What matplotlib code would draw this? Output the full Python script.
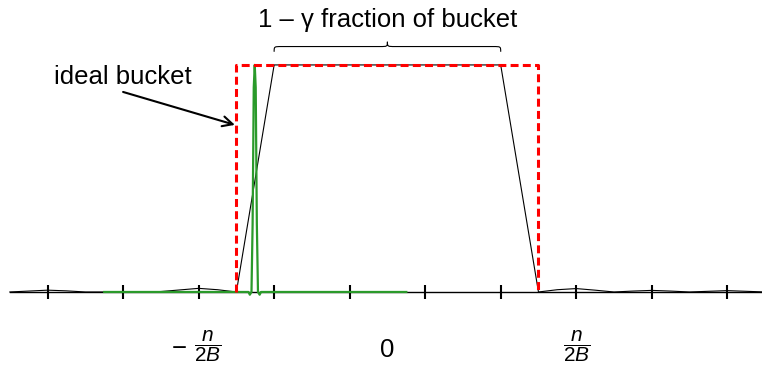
import numpy as np
import matplotlib
matplotlib.use("Agg")
import matplotlib.pyplot as plt
from matplotlib.path import Path
from matplotlib.patches import PathPatch

plt.rcParams['font.family'] = ['Liberation Sans', 'DejaVu Sans']
plt.rcParams['mathtext.fontset'] = 'custom'
plt.rcParams['mathtext.rm'] = 'Liberation Sans'
plt.rcParams['mathtext.it'] = 'Liberation Sans:italic'

# Ideal bucket (rectangle of unit height)
bucket_x = [-2.0, -2.0, 2.0, 2.0]
bucket_y = [0.0, 1.0, 1.0, 0.0]

# Realised filter response: trapezoid with small side lobes
filter_x = [-5.0, -4.75, -4.5, -4.25, -4.0, -3.75, -3.5, -3.25, -3.0, -2.75,
            -2.5, -2.25, -2.0, -1.5, 1.5, 2.0, 2.25, 2.5, 2.75, 3.0, 3.25,
            3.5, 3.75, 4.0, 4.25, 4.5, 4.75, 5.0]
filter_y = [0.0, 0.004, 0.008, 0.005, 0.0, 0.0, 0.0, 0.0, 0.002, 0.009,
            0.016, 0.010, 0.0, 1.0, 1.0, 0.0, 0.010, 0.015, 0.008, 0.0, 0.004,
            0.007, 0.004, 0.0, 0.003, 0.006, 0.003, 0.0]

# Narrow spike
spike_x = [-3.75, -1.84, -1.822, -1.80, -1.785, -1.770, -1.757, -1.744,
           -1.729, -1.714, -1.692, -1.674, 0.25]
spike_y = [0.0, 0.0, -0.012, 0.0, 0.30, 0.90, 1.0, 0.90,
           0.30, 0.0, -0.012, 0.0, 0.0]

tick_positions = [-4.5, -3.5, -2.5, -1.5, -0.5, 0.5, 1.5, 2.5, 3.5, 4.5]
frac_label = r'$\dfrac{n}{2B}$'

fig = plt.figure(figsize=(7.62, 3.66), dpi=100)
ax = fig.add_axes([0, 0, 1, 1])
ax.set_xlim(-5.13, 4.96)
ax.set_ylim(-0.326, 1.286)

for side in ('top', 'right', 'left'):
    ax.spines[side].set_visible(False)
ax.spines['bottom'].set_position(('data', 0))
ax.spines['bottom'].set_linewidth(1.0)
ax.spines['bottom'].set_bounds(-5.0, 4.96)
ax.set_yticks([])
ax.set_xticks(tick_positions)
ax.set_xticklabels([])
ax.tick_params(axis='x', direction='inout', length=10, width=1.5, color='black')

ax.plot(filter_x, filter_y, color='black', lw=0.8, zorder=3)
ax.plot(spike_x, spike_y, color='#2a9a2a', lw=1.6, zorder=4)
ax.plot(bucket_x, bucket_y, color='red', lw=2.2, dashes=(2.6, 1.4), zorder=5)

# axis labels: -n/2B, 0, n/2B
ax.text(-2.76, -0.252, '\u2212', ha='center', va='center', fontsize=18.5)
ax.text(-2.38, -0.24, frac_label, ha='center', va='center', fontsize=15)
ax.text(0.0, -0.255, '0', ha='center', va='center', fontsize=18.5)
ax.text(2.51, -0.24, frac_label, ha='center', va='center', fontsize=15)

ax.text(0.0, 1.198, '1 \u2013 \u03b3 fraction of bucket', ha='center', va='center', fontsize=18.5)

# curly brace over the flat top
def brace(x0, x1, y_end, y_mid, y_tip):
    xm = (x0 + x1) / 2
    w = 0.1
    verts = [(x0, y_end),
             (x0, y_mid), (x0, y_mid), (x0 + w, y_mid),
             (xm - w, y_mid),
             (xm, y_mid), (xm, y_mid), (xm, y_tip),
             (xm, y_mid), (xm, y_mid), (xm + w, y_mid),
             (x1 - w, y_mid),
             (x1, y_mid), (x1, y_mid), (x1, y_end)]
    codes = [Path.MOVETO,
             Path.CURVE4, Path.CURVE4, Path.CURVE4,
             Path.LINETO,
             Path.CURVE4, Path.CURVE4, Path.CURVE4,
             Path.CURVE4, Path.CURVE4, Path.CURVE4,
             Path.LINETO,
             Path.CURVE4, Path.CURVE4, Path.CURVE4]
    return PathPatch(Path(verts, codes), fill=False, lw=0.8, color='black')

ax.add_patch(brace(-1.5, 1.5, 1.058, 1.081, 1.102))

ax.text(-3.51, 0.947, 'ideal bucket', ha='center', va='center', fontsize=18.5)
ax.annotate('', xy=(-2.02, 0.736), xytext=(-3.50, 0.881),
            arrowprops=dict(arrowstyle='->', lw=1.5, color='black',
                            shrinkA=0, shrinkB=0, mutation_scale=18))

fig.savefig('out.png', dpi=100)
